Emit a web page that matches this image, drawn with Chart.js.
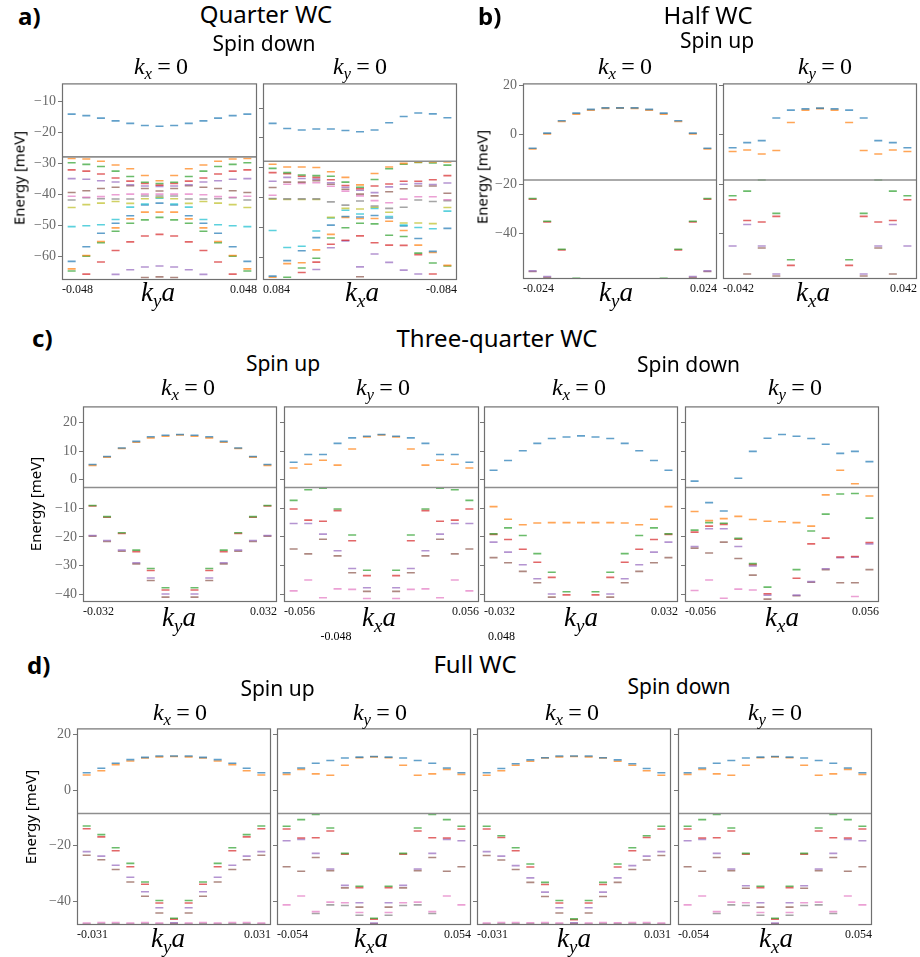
<!DOCTYPE html>
<html>
<head>
<meta charset="utf-8">
<script src="https://cdn.jsdelivr.net/npm/chart.js@4.4.1/dist/chart.umd.min.js"></script>
<style>
  html, body { margin: 0; padding: 0; background: #fff; }
  #fig { position: relative; width: 920px; height: 957px; overflow: hidden; }
  canvas { position: absolute; }
  .t { position: absolute; white-space: nowrap; line-height: 1; color: #000; }
  .sans { font-family: 'Noto Sans', sans-serif; }
  .math { font-family: 'Liberation Serif', serif; font-style: italic; }
  .math sub { font-size: 70%; vertical-align: -0.3em; line-height: 1; }
  .math .up { font-style: normal; }
  .math .rel { font-style: normal; margin: 0 0.22em; }
  .tick { font-family: 'Liberation Serif', serif; }
</style>
</head>
<body>
<div id="fig"></div>
<script>
// matplotlib tab10 cycle, bands are coloured by their energy rank
const tab10 = ['#1f77b4', '#ff7f0e', '#2ca02c', '#d62728', '#9467bd',
               '#8c564b', '#e377c2', '#7f7f7f', '#bcbd22', '#17becf'];

// ---- a) Quarter WC, spin down ----
const kA1 = [-0.048, -0.040, -0.032, -0.024, -0.016, -0.008, 0, 0.008, 0.016, 0.024, 0.032, 0.040, 0.048];
const eA1 = [
  [-14.0, -14.5, -15.3, -16.2, -17.0, -17.7, -17.9, -17.7, -17.0, -16.2, -15.3, -14.5, -14.0],
  [-28.3, -28.5, -29.2, -30.4, -31.6, -33.8, -35.5, -33.8, -31.6, -30.4, -29.2, -28.5, -28.3],
  [-29.7, -30.2, -30.9, -32.4, -34.1, -36.0, -36.4, -36.0, -34.1, -32.4, -30.9, -30.2, -29.7],
  [-32.0, -32.4, -33.3, -34.6, -35.6, -36.4, -36.9, -36.4, -35.6, -34.6, -33.3, -32.4, -32.0],
  [-34.8, -35.0, -35.5, -35.9, -36.8, -37.2, -37.3, -37.2, -36.8, -35.9, -35.5, -35.0, -34.8],
  [-39.3, -38.7, -38.0, -37.6, -37.1, -38.0, -38.8, -38.0, -37.1, -37.6, -38.0, -38.7, -39.3],
  [-40.5, -40.8, -40.6, -40.0, -39.8, -39.8, -39.8, -39.8, -39.8, -40.0, -40.6, -40.8, -40.5],
  [-41.7, -41.0, -41.3, -41.4, -41.4, -40.4, -40.4, -40.4, -41.4, -41.4, -41.3, -41.0, -41.7],
  [-44.1, -43.2, -42.7, -42.2, -42.8, -41.3, -40.9, -41.3, -42.8, -42.2, -42.7, -43.2, -44.1],
  [-50.3, -50.0, -49.7, -48.0, -44.0, -43.0, -41.1, -43.0, -44.0, -48.0, -49.7, -50.0, -50.3],
  [-61.5, -56.8, -52.4, -49.2, -46.8, -43.3, -42.7, -43.3, -46.8, -49.2, -52.4, -56.8, -61.5],
  [-63.9, -59.6, -55.1, -50.7, -47.8, -45.6, -45.6, -45.6, -47.8, -50.7, -55.1, -59.6, -63.9],
  [-64.6, -59.8, -55.5, -51.8, -49.2, -48.1, -47.3, -48.1, -49.2, -51.8, -55.5, -59.8, -64.6],
  [null, -65.6, -61.7, -58.0, -55.2, -53.3, -52.8, -53.3, -55.2, -58.0, -61.7, -65.6, null],
  [null, null, null, -65.7, -64.2, -63.3, -63.0, -63.3, -64.2, -65.7, null, null, null],
  [null, null, null, null, null, -66.7, -66.5, -66.7, null, null, null, null, null]
];
const kA2 = [0.084, 0.070, 0.056, 0.042, 0.028, 0.014, 0, -0.014, -0.028, -0.042, -0.056, -0.070, -0.084];
const eA2 = [
  [-15.1, -16.8, -17.3, -17.0, -17.0, -17.5, -17.9, -17.3, -14.9, -12.8, -11.6, -11.9, -13.2],
  [-28.8, -29.7, -29.7, -29.9, -31.3, -33.2, -35.7, -31.9, -29.7, -28.5, -28.0, -28.0, -28.0],
  [-30.2, -31.6, -32.4, -32.6, -32.8, -34.8, -36.5, -33.9, -30.3, -28.8, -28.2, -28.4, -29.1],
  [-31.6, -32.0, -32.8, -33.2, -34.0, -35.9, -37.0, -36.1, -35.4, -34.5, -34.5, -34.0, -32.6],
  [-34.5, -33.2, -33.6, -33.8, -35.0, -36.5, -37.5, -38.3, -36.4, -35.5, -35.3, -35.6, -35.1],
  [-36.6, -34.8, -34.8, -34.3, -35.5, -37.2, -38.8, -39.4, -38.0, -37.0, -36.1, -36.1, -38.5],
  [-39.2, -35.5, -35.2, -35.0, -36.2, -37.8, -39.4, -41.0, -41.7, -40.5, -39.7, -39.7, -40.7],
  [-40.3, -40.4, -40.4, -40.4, -41.4, -42.5, -41.1, -42.8, -43.6, -43.2, -40.8, -41.3, -41.0],
  [-40.5, -40.6, -40.6, -40.6, -46.6, -43.6, -43.8, -43.2, -44.9, -48.5, -48.5, -48.7, -43.3],
  [-51.0, -56.7, -56.3, -51.2, -46.8, -44.2, -45.5, -43.6, -46.3, -49.2, -50.0, -50.4, -44.5],
  [-66.3, -61.1, -57.8, -53.4, -49.2, -46.3, -46.5, -46.0, -46.8, -49.5, -53.7, -58.0, -50.3],
  [-66.7, -62.1, -61.8, -57.5, -52.3, -46.6, -47.0, -47.0, -47.9, -51.0, -55.9, -58.4, -62.7],
  [null, -66.7, -63.6, -60.3, -53.5, -50.1, -48.6, -48.8, -52.6, -53.0, -58.6, -61.9, -62.9],
  [null, null, -65.1, -61.6, -55.6, -54.3, -52.8, -55.1, -55.9, -56.0, -59.1, -65.6, null],
  [null, null, null, -64.1, -56.8, -54.5, -63.2, -58.9, -61.7, -64.3, -65.6, null, null],
  [null, null, null, null, null, null, -66.5, null, null, null, null, null, null]
];
const fermiA = -27.8;
const yA1 = [-67.5, -4.1, 10];
const yA2 = [-67.6, -1.7, 10];
const xtA1 = ['-0.048', '0.048'];
const xtA2 = ['-0.084', '0.084'];

// ---- b) Half WC, spin up ----
const kB1 = [-0.024, -0.020, -0.016, -0.012, -0.008, -0.004, 0, 0.004, 0.008, 0.012, 0.016, 0.020, 0.024];
const eB1 = [
  [-5.5, 0.6, 5.6, 8.7, 10.2, 10.8, 10.8, 10.8, 10.2, 8.7, 5.6, 0.6, -5.5],
  [-5.8, 0.3, 5.3, 8.3, 9.9, 10.6, 10.7, 10.6, 9.9, 8.3, 5.3, 0.3, -5.8],
  [-25.8, -35.0, -46.3, -58.0, null, null, null, null, null, -58.0, -46.3, -35.0, -25.8],
  [-26.1, -35.3, -46.6, null, null, null, null, null, null, null, -46.6, -35.3, -26.1],
  [-55.0, -57.3, null, null, null, null, null, null, null, null, null, -57.3, -55.0],
  [-55.3, -57.7, null, null, null, null, null, null, null, null, null, -57.7, -55.3]
];
const kB2 = [-0.042, -0.035, -0.028, -0.021, -0.014, -0.007, 0, 0.007, 0.014, 0.021, 0.028, 0.035, 0.042];
const eB2 = [
  [-5.3, -3.2, -2.4, 6.7, 9.9, 10.4, 10.7, 10.4, 9.9, 6.7, -2.4, -3.2, -5.3],
  [-6.8, -6.2, -7.8, -6.4, 4.9, 9.9, 10.5, 9.9, 4.9, -6.4, -7.8, -6.2, -6.8],
  [-24.7, -22.8, -18.3, -31.8, -50.5, null, null, null, -50.5, -31.8, -18.3, -22.8, -24.7],
  [-26.3, -34.7, -35.3, -33.0, -52.8, null, null, null, -52.8, -33.0, -35.3, -34.7, -26.3],
  [-45.0, -36.3, -45.0, -56.3, null, null, null, null, null, -56.3, -45.0, -36.3, -45.0],
  [null, -56.3, -45.8, -57.1, null, null, null, null, null, -57.1, -45.8, -56.3, null]
];
const fermiB = -18.3;
const yB = [-58.3, 20.7, 20];
const xtB1 = ['-0.024', '0.024'];
const xtB2 = ['-0.042', '0.042'];

// ---- c) Three-quarter WC ----
const kC1 = [-0.032, -0.0267, -0.0213, -0.016, -0.0107, -0.0053, 0, 0.0053, 0.0107, 0.016, 0.0213, 0.0267, 0.032];
const kC2 = [-0.056, -0.0467, -0.0373, -0.028, -0.0187, -0.0093, 0, 0.0093, 0.0187, 0.028, 0.0373, 0.0467, 0.056];
const eC1 = [
  [5.3, 8.1, 11.1, 13.4, 15.0, 15.5, 15.8, 15.5, 15.0, 13.4, 11.1, 8.1, 5.3],
  [5.0, 7.9, 10.9, 13.1, 14.6, 15.2, 15.6, 15.2, 14.6, 13.1, 10.9, 7.9, 5.0],
  [-9.0, -12.9, -18.5, -24.6, -31.0, -37.7, null, -37.7, -31.0, -24.6, -18.5, -12.9, -9.0],
  [-9.2, -13.1, -18.8, -25.1, -31.7, -38.5, null, -38.5, -31.7, -25.1, -18.8, -13.1, -9.2],
  [-19.5, -21.2, -24.6, -29.0, -34.3, -39.9, null, -39.9, -34.3, -29.0, -24.6, -21.2, -19.5],
  [-19.7, -21.6, -25.0, -29.4, -35.2, -41.0, null, -41.0, -35.2, -29.4, -25.0, -21.6, -19.7]
];
const eC2 = [
  [6.1, 8.8, 8.8, 12.7, 14.6, 15.2, 15.8, 15.2, 14.6, 12.7, 8.8, 8.8, 6.1],
  [4.1, 5.4, 6.8, 5.1, 10.7, 14.9, 15.6, 14.9, 10.7, 5.1, 6.8, 5.4, 4.1],
  [-7.2, -3.5, -3.0, -10.2, -19.3, -31.6, null, -31.6, -19.3, -10.2, -3.0, -3.5, -7.2],
  [-10.2, -14.1, -14.5, -10.8, -21.3, -33.5, null, -33.5, -21.3, -10.8, -14.5, -14.1, -10.2],
  [-15.3, -15.3, -19.0, -24.8, -31.0, -37.7, null, -37.7, -31.0, -24.8, -19.0, -15.3, -15.3],
  [-24.2, -25.9, -20.8, -26.6, -32.5, -39.0, null, -39.0, -32.5, -26.6, -20.8, -25.9, -24.2],
  [-38.8, -35.0, -41.2, -38.1, -38.3, -41.5, null, -41.5, -38.3, -38.1, -41.2, -35.0, -38.8]
];
const eC3 = [
  [3.3, 6.7, 10.1, 12.7, 14.4, 14.9, 15.3, 14.9, 14.4, 12.7, 10.1, 6.7, 3.3],
  [-9.4, -13.8, -15.7, -15.1, -15.0, -15.0, -15.0, -15.0, -15.0, -15.1, -15.7, -13.8, -9.4],
  [-18.9, -16.8, -19.5, -25.8, -32.3, -39.1, null, -39.1, -32.3, -25.8, -19.5, -16.8, -18.9],
  [-19.1, -20.9, -24.3, -28.8, -34.1, -40.2, null, -40.2, -34.1, -28.8, -24.3, -20.9, -19.1],
  [-21.8, -25.3, -29.7, -34.6, -39.9, null, null, null, -39.9, -34.6, -29.7, -25.3, -21.8],
  [-27.2, -29.0, -32.0, -36.0, -41.0, null, null, null, -41.0, -36.0, -32.0, -29.0, -27.2]
];
const eC4 = [
  [-0.5, -8.0, -10.9, 0.5, 9.9, 14.5, 15.8, 15.2, 14.4, 12.4, 9.2, 9.9, 6.3],
  [-11.1, -14.3, -13.6, -12.8, -13.9, -14.5, -14.7, -15.0, -16.2, -5.3, 3.3, -1.4, -5.7],
  [-17.6, -15.0, -15.2, -20.5, -29.3, -37.5, null, -31.4, -17.9, -12.0, -5.0, -4.8, -13.4],
  [-18.3, -16.2, -15.6, -20.8, -29.6, -39.8, null, -34.4, -22.4, -20.4, -27.0, -26.8, -21.9],
  [-23.3, -17.1, -17.1, -23.3, -30.1, -40.3, null, -40.3, -35.6, -31.1, -27.2, -27.1, -22.4],
  [-23.9, -25.6, -21.8, -27.5, -33.3, -41.7, null, -40.5, -35.8, -31.4, -36.0, -36.0, -31.4],
  [-38.7, -35.0, -41.4, -38.2, -38.5, null, null, null, null, null, null, -40.8, null]
];
const fermiC = -2.7;
const yC = [-42.7, 25.6, 10];
const xtC1 = ['-0.032', '0.032'];
const xtC2 = ['-0.056', '0.056'];

// ---- d) Full WC ----
const kD1 = [-0.031, -0.0258, -0.0207, -0.0155, -0.0103, -0.0052, 0, 0.0052, 0.0103, 0.0155, 0.0207, 0.0258, 0.031];
const kD2 = [-0.054, -0.045, -0.036, -0.027, -0.018, -0.009, 0, 0.009, 0.018, 0.027, 0.036, 0.045, 0.054];
const eD1 = [
  [6.2, 7.8, 9.6, 10.9, 11.7, 12.2, 12.2, 12.2, 11.7, 10.9, 9.6, 7.8, 6.2],
  [5.4, 6.9, 9.1, 10.4, 11.5, 11.9, 12.0, 11.9, 11.5, 10.4, 9.1, 6.9, 5.4],
  [-12.9, -16.0, -20.7, -26.3, -33.0, -39.6, -46.0, -39.6, -33.0, -26.3, -20.7, -16.0, -12.9],
  [-13.9, -16.8, -21.8, -27.5, -33.8, -40.5, -46.3, -40.5, -33.8, -27.5, -21.8, -16.8, -13.9],
  [-22.1, -23.7, -27.0, -31.3, -36.5, -42.2, -47.6, -42.2, -36.5, -31.3, -27.0, -23.7, -22.1],
  [-23.4, -25.0, -28.5, -33.0, -38.1, -44.1, -47.9, -44.1, -38.1, -33.0, -28.5, -25.0, -23.4],
  [-47.7, -47.5, -47.5, -47.7, -47.5, -47.7, null, -47.7, -47.5, -47.7, -47.5, -47.5, -47.7],
  [-48.1, -48.0, -48.0, -48.1, -48.0, -48.1, null, -48.1, -48.0, -48.1, -48.0, -48.0, -48.1]
];
const eD2 = [
  [6.2, 7.9, 9.6, 10.6, 11.5, 11.8, 12.0, 11.8, 11.5, 10.6, 9.6, 7.9, 6.2],
  [5.6, 7.4, 5.8, 5.3, 8.9, 11.6, 11.9, 11.6, 8.9, 5.3, 5.8, 7.4, 5.6],
  [-13.0, -10.6, -8.8, -13.6, -22.7, -34.5, -46.0, -34.5, -22.7, -13.6, -8.8, -10.6, -13.0],
  [-14.0, -17.2, -17.1, -14.7, -23.0, -35.0, -46.3, -35.0, -23.0, -14.7, -17.1, -17.2, -14.0],
  [-18.2, -17.7, -22.7, -28.3, -34.2, -40.4, -47.7, -40.4, -34.2, -28.3, -22.7, -17.7, -18.2],
  [-27.5, -29.1, -24.2, -28.9, -35.1, -42.0, -48.0, -42.0, -35.1, -28.9, -24.2, -29.1, -27.5],
  [-41.2, -38.0, -43.6, -40.2, -40.4, -43.9, null, -43.9, -40.4, -40.2, -43.6, -38.0, -41.2],
  [null, null, -44.3, -41.2, -41.4, -44.9, null, -44.9, -41.4, -41.2, -44.3, null, null]
];
const eD3 = [
  [6.2, 7.7, 9.4, 10.8, 11.6, 12.2, 12.2, 12.2, 11.6, 10.8, 9.4, 7.7, 6.2],
  [5.3, 6.9, 8.9, 10.3, 11.5, 11.9, 12.0, 11.9, 11.5, 10.3, 8.9, 6.9, 5.3],
  [-13.0, -16.4, -20.7, -26.5, -33.1, -39.6, -46.2, -39.6, -33.1, -26.5, -20.7, -16.4, -13.0],
  [-14.0, -17.0, -21.8, -27.6, -33.9, -40.5, -46.5, -40.5, -33.9, -27.6, -21.8, -17.0, -14.0],
  [-22.1, -23.7, -27.1, -31.5, -36.6, -42.2, -47.6, -42.2, -36.6, -31.5, -27.1, -23.7, -22.1],
  [-23.5, -25.1, -28.5, -33.1, -38.2, -44.1, -47.9, -44.1, -38.2, -33.1, -28.5, -25.1, -23.5],
  [-47.7, -47.5, -47.5, -47.6, -47.5, -47.7, null, -47.7, -47.5, -47.6, -47.5, -47.5, -47.7],
  [-48.1, -48.0, -48.0, -48.0, -48.0, -48.1, null, -48.1, -48.0, -48.0, -48.0, -48.0, -48.1]
];
const eD4 = [
  [6.2, 7.9, 9.6, 10.6, 11.5, 11.8, 12.0, 11.8, 11.5, 10.6, 9.6, 7.9, 6.2],
  [5.6, 7.4, 5.8, 5.3, 8.9, 11.6, 11.9, 11.6, 8.9, 5.3, 5.8, 7.4, 5.6],
  [-13.0, -10.6, -8.8, -13.6, -22.7, -34.5, -46.0, -34.5, -22.7, -13.6, -8.8, -10.6, -13.0],
  [-14.0, -17.2, -17.1, -14.7, -23.0, -35.0, -46.3, -35.0, -23.0, -14.7, -17.1, -17.2, -14.0],
  [-18.2, -17.7, -22.7, -28.3, -34.3, -40.4, -47.7, -40.4, -34.3, -28.3, -22.7, -17.7, -18.2],
  [-27.5, -29.1, -24.2, -28.9, -35.2, -42.0, -48.0, -42.0, -35.2, -28.9, -24.2, -29.1, -27.5],
  [-41.2, -38.0, -43.6, -40.2, -40.4, -43.9, null, -43.9, -40.4, -40.2, -43.6, -38.0, -41.2],
  [null, null, -44.3, -41.2, -41.4, -44.9, null, -44.9, -41.4, -41.2, -44.3, null, null]
];
const fermiD = -8.4;
const yD = [-48.4, 22.1, 20];
const xtD1 = ['-0.031', '0.031'];
const xtD2 = ['-0.054', '0.054'];

// panel boxes: [left, top, width, height] of the plot frame
const panels = [
  { k: kA1, e: eA1, fermi: fermiA, y: yA1, xt: xtA1, box: [62, 79, 195, 201], ylab: true },
  { k: kA2, e: eA2, fermi: fermiA, y: yA2, xt: xtA2, box: [263, 79, 194, 201], reverse: true },
  { k: kB1, e: eB1, fermi: fermiB, y: yB, xt: xtB1, box: [523, 79, 194, 200], ylab: true },
  { k: kB2, e: eB2, fermi: fermiB, y: yB, xt: xtB2, box: [723, 79, 194, 200] },
  { k: kC1, e: eC1, fermi: fermiC, y: yC, xt: xtC1, box: [83, 402, 194, 200], ylab: true },
  { k: kC2, e: eC2, fermi: fermiC, y: yC, xt: xtC2, box: [284, 402, 195, 200] },
  { k: kC1, e: eC3, fermi: fermiC, y: yC, xt: xtC1, box: [484, 402, 194, 200] },
  { k: kC2, e: eC4, fermi: fermiC, y: yC, xt: xtC2, box: [685, 402, 194, 200] },
  { k: kD1, e: eD1, fermi: fermiD, y: yD, xt: xtD1, box: [77, 724, 194, 201], ylab: true },
  { k: kD2, e: eD2, fermi: fermiD, y: yD, xt: xtD2, box: [277, 724, 194, 201] },
  { k: kD1, e: eD3, fermi: fermiD, y: yD, xt: xtD1, box: [477, 724, 194, 201] },
  { k: kD2, e: eD4, fermi: fermiD, y: yD, xt: xtD2, box: [678, 724, 194, 201] }
];

const fig = document.getElementById('fig');
const AXW = 46, PADT = 6, PADR = 24, AXH = 20;

function rgba(hex, a) {
  const n = parseInt(hex.slice(1), 16);
  return `rgba(${n >> 16},${(n >> 8) & 255},${n & 255},${a})`;
}

const framePlugin = {
  id: 'frame',
  afterDatasetsDraw(chart, args, opts) {
    const { ctx, chartArea: a } = chart;
    const py = chart.scales.y.getPixelForValue(opts.fermi);
    ctx.save();
    ctx.strokeStyle = '#8e8e8e';
    ctx.lineWidth = 1.6;
    ctx.beginPath();
    ctx.moveTo(a.left, py);
    ctx.lineTo(a.right, py);
    ctx.stroke();
    ctx.strokeStyle = '#707070';
    ctx.lineWidth = 1.2;
    ctx.strokeRect(a.left + 0.5, a.top + 0.5, a.right - a.left - 1, a.bottom - a.top - 1);
    ctx.restore();
  }
};

panels.forEach(p => {
  const [L, T, W, H] = p.box;
  const cv = document.createElement('canvas');
  cv.width = W + AXW + PADR;
  cv.height = H + PADT + AXH;
  cv.style.left = (L - AXW) + 'px';
  cv.style.top = (T - PADT) + 'px';
  fig.appendChild(cv);

  const step = Math.abs(p.k[1] - p.k[0]);
  const kmin = Math.min(...p.k), kmax = Math.max(...p.k);

  const datasets = p.e.map((band, j) => ({
    data: p.k.map((x, i) => ({ x: x, y: band[i] })),
    pointStyle: 'line',
    pointRadius: 4,
    pointBorderWidth: 1.6,
    borderColor: rgba(tab10[j % 10], 0.7),
    pointBorderColor: rgba(tab10[j % 10], 0.7),
    clip: 2
  }));

  new Chart(cv, {
    type: 'scatter',
    data: { datasets },
    plugins: [framePlugin],
    options: {
      responsive: false,
      animation: false,
      devicePixelRatio: 1,
      layout: { autoPadding: false, padding: { left: 0, top: PADT, right: PADR, bottom: 0 } },
      plugins: { legend: { display: false }, tooltip: { enabled: false }, frame: { fermi: p.fermi } },
      scales: {
        x: {
          type: 'linear',
          min: kmin - 0.66 * step,
          max: kmax + 0.66 * step,
          reverse: !!p.reverse,
          grid: { display: false, drawTicks: false },
          border: { display: false },
          afterBuildTicks: s => { s.ticks = [{ value: s.min }, { value: s.max }]; },
          afterFit: s => { s.height = AXH; },
          ticks: {
            align: 'inner',
            autoSkip: false,
            maxRotation: 0,
            padding: 3,
            color: '#111',
            font: { family: "'Liberation Serif', serif", size: 12 },
            callback: (v, i) => p.xt[i]
          }
        },
        y: {
          min: p.y[0],
          max: p.y[1],
          grid: { drawOnChartArea: false, drawTicks: true, tickLength: 4, color: '#777' },
          border: { display: false },
          afterFit: s => { s.width = AXW; },
          ticks: {
            stepSize: p.y[2],
            includeBounds: false,
            padding: 2,
            color: '#6a6a6a',
            font: { family: "'Liberation Serif', serif", size: 14 },
            callback: v => p.ylab ? (v < 0 ? '\u2212' + (-v) : String(v)) : ''
          }
        }
      }
    }
  });
});

// ---- text ----
function addText(html, x, base, size, cls, center, bold) {
  const d = document.createElement('div');
  d.className = 't ' + cls;
  d.innerHTML = html;
  d.style.fontSize = size + 'px';
  if (bold) d.style.fontWeight = 'bold';
  const asc = (cls === 'math' || cls === 'tick') ? 0.8375 : 0.888;
  d.style.top = (base - asc * size) + 'px';
  d.style.left = x + 'px';
  if (center) d.style.transform = 'translateX(-50%)';
  fig.appendChild(d);
}
function energyLabel(cx, cy) {
  const d = document.createElement('div');
  d.className = 't sans';
  d.textContent = 'Energy [meV]';
  d.style.fontSize = '15px';
  d.style.left = cx + 'px';
  d.style.top = cy + 'px';
  d.style.transform = 'translate(-50%,-50%) rotate(-90deg)';
  fig.appendChild(d);
}
const kx0 = '<i>k</i><sub>x</sub><span class="rel">=</span><span class="up">0</span>';
const ky0 = '<i>k</i><sub>y</sub><span class="rel">=</span><span class="up">0</span>';
const kya = '<i>k</i><sub>y</sub><i>a</i>';
const kxa = '<i>k</i><sub>x</sub><i>a</i>';

addText('a)', 18, 25, 24, 'sans', false, true);
addText('Quarter WC', 266, 23.5, 24, 'sans', true);
addText('Spin down', 264, 51.5, 21, 'sans', true);
addText('b)', 478, 25, 24, 'sans', false, true);
addText('Half WC', 708, 24, 24, 'sans', true);
addText('Spin up', 717, 48.5, 21, 'sans', true);

addText('c)', 32, 347, 24, 'sans', false, true);
addText('Three-quarter WC', 497, 347, 24, 'sans', true);
addText('Spin up', 283, 371.5, 21, 'sans', true);
addText('Spin down', 688.5, 373, 21, 'sans', true);

addText('d)', 27, 674, 24, 'sans', false, true);
addText('Full WC', 475, 673, 24, 'sans', true);
addText('Spin up', 277.5, 696.5, 21, 'sans', true);
addText('Spin down', 679, 695, 21, 'sans', true);

// panel titles
[[kx0, 161, 74], [ky0, 360, 74], [kx0, 625, 74], [ky0, 825, 74],
 [kx0, 188, 395.5], [ky0, 383, 395.5], [kx0, 579, 395.5], [ky0, 795, 395.5],
 [kx0, 180, 720.5], [ky0, 380, 720.5], [kx0, 572, 720.5], [ky0, 775, 720.5]]
  .forEach(([h, x, b]) => addText(h, x, b, 24, 'math', true));

// x axis titles
[[kya, 158, 301.5], [kxa, 362, 301.5], [kya, 616, 301.5], [kxa, 813, 301.5],
 [kya, 179, 626.5], [kxa, 379, 626.5], [kya, 581, 626.5], [kxa, 782, 626.5],
 [kya, 168, 948], [kxa, 371, 948], [kya, 574, 948], [kxa, 776, 948]]
  .forEach(([h, x, b]) => addText(h, x, b, 27, 'math', true));

energyLabel(18.5, 178);
energyLabel(481.5, 177);
energyLabel(35, 504);
energyLabel(30, 817);

// stray tick labels under panel c
addText('-0.048', 336, 640, 12, 'tick', true);
addText('0.048', 501.5, 640, 12, 'tick', true);
</script>
</body>
</html>
